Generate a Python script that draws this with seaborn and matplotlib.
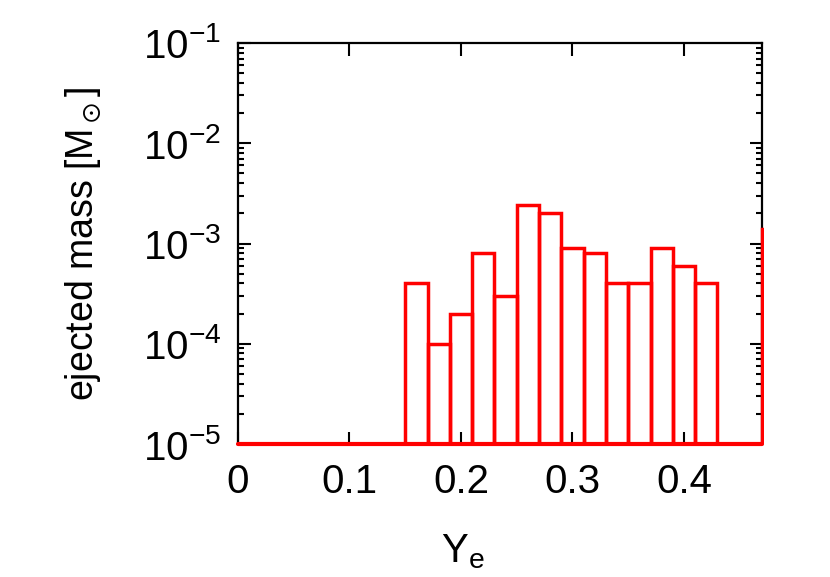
import matplotlib
matplotlib.use("Agg")
import matplotlib.pyplot as plt
import matplotlib.ticker as mticker
from matplotlib.transforms import Bbox, TransformedBbox
import seaborn as sns

# electron fraction bins (left edges, width 0.02) and ejected mass per bin [Msun]
ye_left = [0.15, 0.17, 0.19, 0.21, 0.23, 0.25, 0.27, 0.29, 0.31, 0.33,
           0.35, 0.37, 0.39, 0.41, 0.47]
mass = [4.0e-4, 1.0e-4, 2.0e-4, 8.1e-4, 3.0e-4, 2.4e-3, 2.0e-3, 9.0e-4,
        8.0e-4, 4.0e-4, 4.0e-4, 9.0e-4, 6.0e-4, 4.0e-4, 1.4e-3]
x_ticks = [0, 0.1, 0.2, 0.3, 0.4]
x_ticklabels = ['0', '0.1', '0.2', '0.3', '0.4']
y_ticks = [1e-5, 1e-4, 1e-3, 1e-2, 1e-1]
bin_w = 0.02

sns.set_style('ticks')
plt.rcParams['font.family'] = ['Liberation Sans', 'DejaVu Sans']
plt.rcParams.update({'font.size': 29, 'mathtext.default': 'regular',
                     'text.color': 'black', 'axes.labelcolor': 'black',
                     'xtick.color': 'black', 'ytick.color': 'black'})

fig = plt.figure(figsize=(8.3, 5.77), dpi=100)
ax = fig.add_axes([238 / 830, 1 - 444 / 577, (762 - 238) / 830, (444 - 43) / 577])

centers = [x + bin_w / 2 for x in ye_left]
edges = sorted(set([round(x, 4) for x in ye_left] + [round(x + bin_w, 4) for x in ye_left]))
sns.histplot(x=centers, weights=mass, bins=edges,
             element='bars', fill=False, color='red', linewidth=2.5, ax=ax)
ax.set_yscale('log')

# let the outline on the right edge show fully, as in the original
clip = TransformedBbox(Bbox([[-0.01, 0], [1.004, 1]]), ax.transAxes)
for p in ax.patches:
    p.set_clip_path(None)
    p.set_clip_box(clip)
    p.set_zorder(3)
ax.axhline(1e-5, color='red', linewidth=3, clip_on=False, zorder=5)

ax.set_xlim(0, 0.47)
ax.set_ylim(1e-5, 1e-1)
ax.set_xticks(x_ticks)
ax.set_xticklabels(x_ticklabels)
ax.set_yticks(y_ticks)
ax.xaxis.set_minor_locator(mticker.NullLocator())
ax.yaxis.set_minor_locator(mticker.LogLocator(base=10, subs=range(2, 10), numticks=20))

for s in ax.spines.values():
    s.set_visible(True)
    s.set_linewidth(1.6)
    s.set_color('black')
ax.tick_params(which='both', direction='in', top=True, right=True, color='black', width=1.5)
ax.tick_params(which='major', length=9, pad=14)
ax.tick_params(axis='y', which='major', pad=12)
ax.tick_params(which='minor', length=4.5)

ax.set_xlabel('Y$_e$')
ax.set_ylabel(r'ejected mass [M$_\odot$]', fontsize=27)
ax.xaxis.set_label_coords(0.43, -0.22)
ax.yaxis.set_label_coords(-0.255, 0.5)

fig.savefig('out.png', dpi=100)
